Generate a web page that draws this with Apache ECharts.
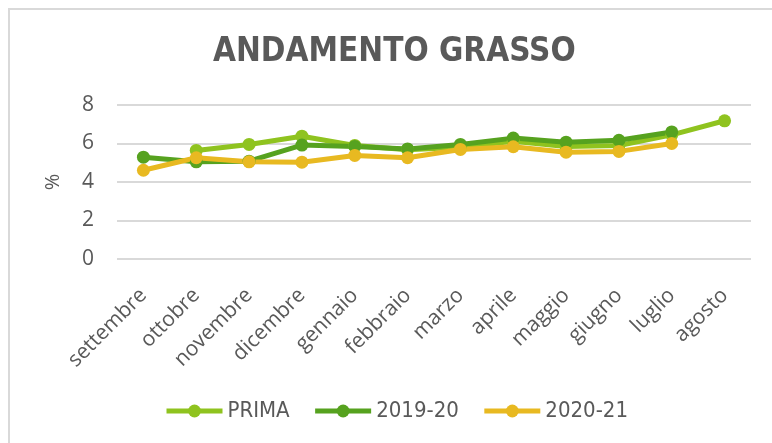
<!DOCTYPE html>
<html><head><meta charset="utf-8">
<script src="https://cdn.jsdelivr.net/npm/echarts@6/dist/echarts.min.js"></script>
<style>
html,body{margin:0;padding:0;background:#fff;}
#frame{position:absolute;left:8px;top:8px;width:780px;height:450px;border:2px solid #d9d9d9;box-sizing:border-box;}
#c{position:absolute;left:0;top:0;width:772px;height:443px;}
</style></head>
<body>
<div id="frame"></div>
<div id="c"></div>
<script>
const categories = ['settembre','ottobre','novembre','dicembre','gennaio','febbraio','marzo','aprile','maggio','giugno','luglio','agosto'];
const prima   = [null, 5.64, 5.95, 6.38, 5.9, 5.68, 5.8, 6.12, 5.85, 5.9, 6.45, 7.18];
const y1920   = [5.29, 5.05, 5.08, 5.92, 5.85, 5.72, 5.95, 6.28, 6.07, 6.17, 6.6, null];
const y2021   = [4.61, 5.26, 5.05, 5.03, 5.38, 5.26, 5.69, 5.83, 5.55, 5.59, 6.0, null];
const yTicks  = [0, 2, 4, 6, 8];

const chart = echarts.init(document.getElementById('c'), null, {renderer:'canvas'});
function mk(name, data, color){
  return {name, type:'line', data, symbol:'circle', symbolSize:13, connectNulls:false,
    lineStyle:{width:5, color}, itemStyle:{color}, emphasis:{disabled:true}};
}
chart.setOption({
  animation:false,
  title:{text:'ANDAMENTO GRASSO', left:213, top:36, padding:0,
    textStyle:{fontFamily:'DejaVu Sans Condensed', fontWeight:'bold', fontSize:33, color:'#595959'}},
  grid:{left:117, right:21, top:105, bottom:184},
  legend:{bottom:16, left:159, itemWidth:56, itemHeight:16, itemGap:23,
    lineStyle:{width:5},
    textStyle:{fontFamily:'DejaVu Sans Condensed', fontSize:22, color:'#595959'},
    data:['PRIMA','2019-20','2020-21']},
  xAxis:{type:'category', data:categories, boundaryGap:true,
    axisLine:{show:false}, axisTick:{show:false},
    axisLabel:{rotate:45, fontFamily:'Open Sans', fontSize:21, color:'#595959', margin:33, interval:0}},
  yAxis:{type:'value', min:yTicks[0], max:yTicks[yTicks.length-1], interval:2,
    name:'%', nameLocation:'middle', nameGap:54, nameRotate:90,
    nameTextStyle:{fontFamily:'Open Sans', fontSize:20, color:'#595959'},
    axisLabel:{fontFamily:'Open Sans', fontSize:21, color:'#595959', margin:23},
    splitLine:{lineStyle:{color:'#d9d9d9', width:2}}},
  series:[mk('PRIMA', prima, '#8fc31f'), mk('2019-20', y1920, '#56a21f'), mk('2020-21', y2021, '#e8b921')]
});
</script>
</body></html>
